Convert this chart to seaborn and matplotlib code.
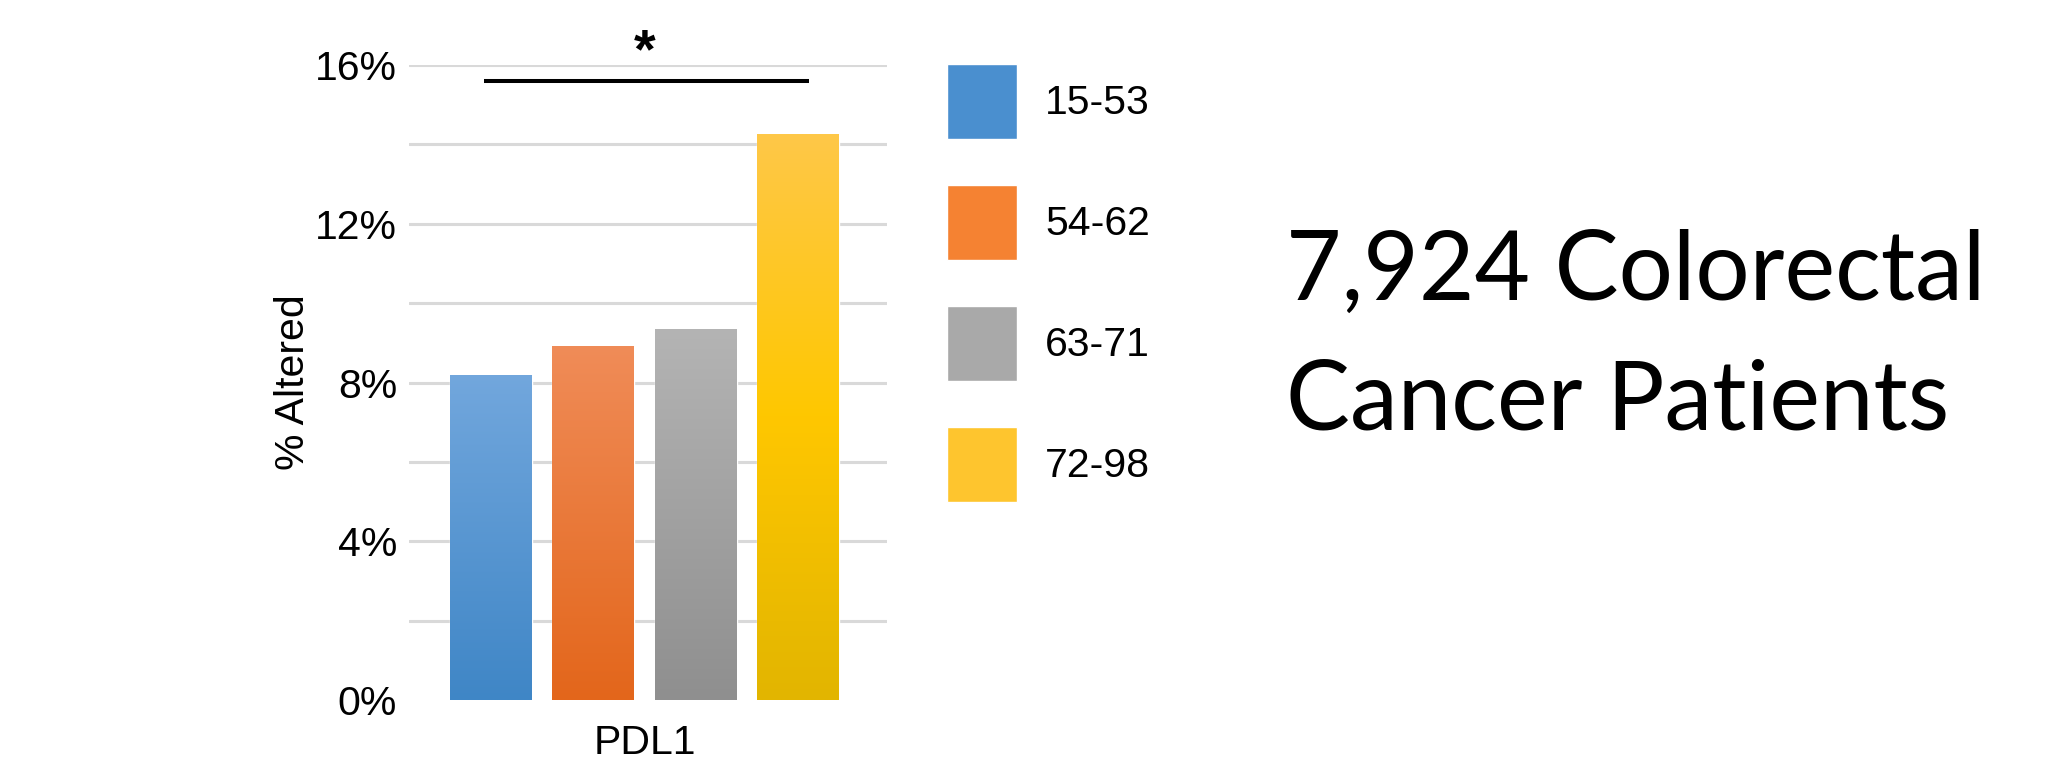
import numpy as np
import pandas as pd
import seaborn as sns
import matplotlib.pyplot as plt
from matplotlib.colors import LinearSegmentedColormap

# donnees
gene = "PDL1"
age_groups = ["15-53", "54-62", "63-71", "72-98"]
pct_altered = [8.19, 8.92, 9.35, 14.25]
sig_level = 15.6
yticks = [0, 4, 8, 12, 16]
ytick_labels = ["0%", "4%", "8%", "12%", "16%"]
title_lines = ["7,924 Colorectal", "Cancer Patients"]

# couleurs (legende unie, barres en degrade haut -> bas)
legend_colors = ["#4a8fcf", "#f58232", "#a9a9a9", "#fec52e"]
gradient_colors = [["#72a7dd", "#3f86c6"],
                   ["#f08c58", "#e3661b"],
                   ["#b4b4b4", "#8f8f8f"],
                   ["#fec848", "#ffc700", "#e2b500"]]

df = pd.DataFrame({"Gene": [gene] * len(age_groups),
                   "Age": age_groups,
                   "Altered": pct_altered})

sns.set_theme(style="white")
plt.rcParams["font.family"] = ["Liberation Sans", "DejaVu Sans"]
for k in ["text.color", "axes.labelcolor", "xtick.color", "ytick.color"]:
    plt.rcParams[k] = "black"

fig = plt.figure(figsize=(20.47, 7.68), dpi=100)
ax = fig.add_axes([409 / 2047, 68 / 768, 478 / 2047, 635 / 768])

sns.barplot(data=df, x="Gene", y="Altered", hue="Age", palette=legend_colors,
            width=0.8, gap=0.2, saturation=1, ax=ax)

# degrade vertical sur chaque barre
grad = np.linspace(0, 1, 256).reshape(-1, 1)
for cont, cols in zip(ax.containers, gradient_colors):
    bar = cont[0]
    x0, y0 = bar.get_x(), bar.get_y()
    w, h = bar.get_width(), bar.get_height()
    cmap = LinearSegmentedColormap.from_list("g", cols[::-1])
    im = ax.imshow(grad, cmap=cmap, extent=[x0, x0 + w, y0, y0 + h],
                   origin="lower", aspect="auto", zorder=bar.get_zorder() + 0.1)
    im.set_clip_path(bar)

ax.set_xlim(-0.46, 0.474)
ax.set_ylim(0, 16)
ax.set_yticks(yticks, ytick_labels)
ax.set_yticks([2, 6, 10, 14], minor=True)
ax.yaxis.grid(True, which="both", color="#d9d9d9", lw=2.2)
ax.yaxis.get_gridlines()[0].set_visible(False)
ax.set_axisbelow(True)
sns.despine(ax=ax, left=True, bottom=True)
ax.tick_params(which="both", length=0, labelsize=29.5)
ax.tick_params(axis="y", pad=8.5)
ax.tick_params(axis="x", pad=17)
ax.set_xlabel("")
ax.set_ylabel("% Altered", fontsize=29.5, labelpad=2)

# barre de significativite
first, last = ax.containers[0][0], ax.containers[-1][0]
w = first.get_width()
x_start = first.get_x() + w / 2 - 0.09 * w
x_end = last.get_x() + last.get_width() / 2 + 0.13 * w
ax.plot([x_start, x_end], [sig_level, sig_level], color="black", lw=2.9,
        clip_on=False, solid_capstyle="butt")
ax.text(ax.get_xticks()[0], 16.3, "*", ha="center", va="center",
        fontsize=40, fontweight="bold", clip_on=False)

sns.move_legend(ax, "upper left", bbox_to_anchor=(947 / 2047, 1 - 64 / 768),
                bbox_transform=fig.transFigure, title="", frameon=False,
                fontsize=29.5, handlelength=1.71, handleheight=2.44,
                labelspacing=1.12, handletextpad=0.68, borderpad=0,
                borderaxespad=0)

fig.text(1286 / 2047, 1 - 300 / 768, title_lines[0], fontsize=69,
         family=["Lato", "DejaVu Sans"], ha="left", va="baseline")
fig.text(1286 / 2047, 1 - 429 / 768, title_lines[1], fontsize=69,
         family=["Lato", "DejaVu Sans"], ha="left", va="baseline")

fig.savefig("out.png", dpi=100)
